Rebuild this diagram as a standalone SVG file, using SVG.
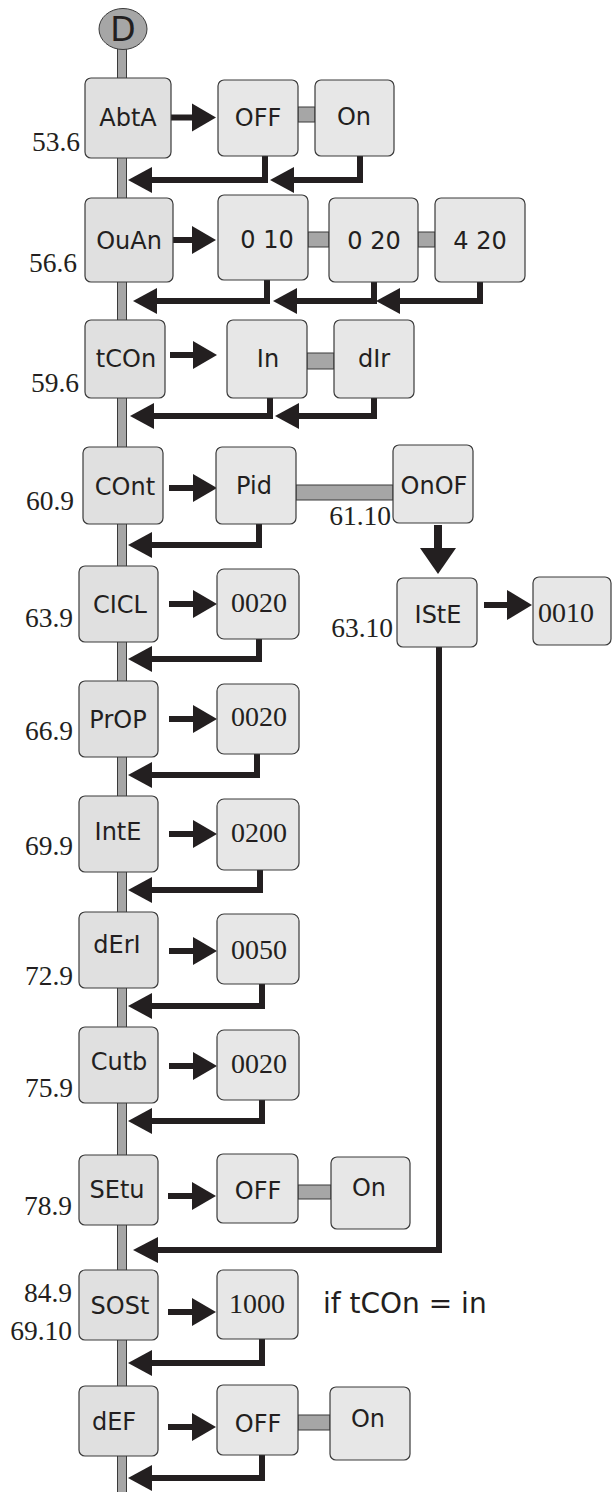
<svg xmlns="http://www.w3.org/2000/svg" width="613" height="1492" viewBox="0 0 613 1492">
<style>
.bx{fill:#e0e0e0;stroke:#3a3a3a;stroke-width:1.2}
.vb{fill:#e7e7e7;stroke:#3a3a3a;stroke-width:1.2}
.bar{fill:#a6a6a6;stroke:#3a3a3a;stroke-width:1}
.t{font-family:"DejaVu Sans","Liberation Sans",sans-serif;font-size:24px;fill:#231f20;text-anchor:middle}
.n{font-family:"Liberation Serif",serif;font-size:28px;fill:#231f20;text-anchor:middle}
.lb{font-family:"Liberation Serif",serif;font-size:27.5px;fill:#231f20;text-anchor:end}
.ln{fill:none;stroke:#231f20;stroke-width:6;stroke-linejoin:miter}
.ah{fill:#231f20}
</style>
<g id="spine">
<rect class="bar" x="117.5" y="45" width="9" height="1450"/>
</g>
<g id="node-D">
<ellipse cx="123" cy="29" rx="24" ry="20.5" class="bar"/>
<text x="123" y="41" class="t" style="font-size:33px">D</text>
</g>
<g id="links">
<rect class="bar" x="298" y="107" width="17" height="15"/>
<rect class="bar" x="308" y="232" width="21" height="15"/>
<rect class="bar" x="418" y="232" width="17" height="15"/>
<rect class="bar" x="307" y="353" width="27" height="16"/>
<rect class="bar" x="296" y="485" width="97" height="15"/>
<rect class="bar" x="298" y="1185" width="33" height="14"/>
<rect class="bar" x="298" y="1415" width="32" height="15"/>
</g>
<g id="connectors">
<line class="ln" x1="168" y1="117.5" x2="194" y2="117.5"/><polygon class="ah" points="192,103.5 216,117.5 192,131.5"/>
<line class="ln" x1="169" y1="240" x2="194" y2="240"/><polygon class="ah" points="192,226 216,240 192,254"/>
<line class="ln" x1="170" y1="355" x2="195" y2="355"/><polygon class="ah" points="193,341 217,355 193,369"/>
<line class="ln" x1="169" y1="488" x2="195" y2="488"/><polygon class="ah" points="193,474 217,488 193,502"/>
<line class="ln" x1="169" y1="604" x2="195" y2="604"/><polygon class="ah" points="193,590 217,604 193,618"/>
<line class="ln" x1="169" y1="719" x2="195" y2="719"/><polygon class="ah" points="193,705 217,719 193,733"/>
<line class="ln" x1="169" y1="834" x2="195" y2="834"/><polygon class="ah" points="193,820 217,834 193,848"/>
<line class="ln" x1="169" y1="951" x2="195" y2="951"/><polygon class="ah" points="193,937 217,951 193,965"/>
<line class="ln" x1="169" y1="1066" x2="195" y2="1066"/><polygon class="ah" points="193,1052 217,1066 193,1080"/>
<line class="ln" x1="168" y1="1196" x2="194" y2="1196"/><polygon class="ah" points="192,1182 216,1196 192,1210"/>
<line class="ln" x1="168" y1="1312" x2="194" y2="1312"/><polygon class="ah" points="192,1298 216,1312 192,1326"/>
<line class="ln" x1="168" y1="1427" x2="194" y2="1427"/><polygon class="ah" points="192,1413 216,1427 192,1441"/>
<line class="ln" x1="484" y1="605" x2="509" y2="605"/><polygon class="ah" points="507,590 532,605 507,620"/>
<rect class="ah" x="434" y="525" width="8" height="25"/><polygon class="ah" points="420,548 456,548 438,574"/>
<polyline class="ln" points="265,156 265,180 150,180"/><polygon class="ah" points="152,167 128,180 152,193"/>
<polyline class="ln" points="360,156 360,180 292,180"/><polygon class="ah" points="294,167 270,180 294,193"/>
<polyline class="ln" points="267,280 267,301 155,301"/><polygon class="ah" points="157,288 133,301 157,314"/>
<polyline class="ln" points="374,282 374,301 295,301"/><polygon class="ah" points="297,288 273,301 297,314"/>
<polyline class="ln" points="480,282 480,301 398,301"/><polygon class="ah" points="400,288 376,301 400,314"/>
<polyline class="ln" points="270,398 270,416 152,416"/><polygon class="ah" points="154,403 130,416 154,429"/>
<polyline class="ln" points="374,398 374,416 297,416"/><polygon class="ah" points="299,403 275,416 299,429"/>
<polyline class="ln" points="259,524 259,545 150,545"/><polygon class="ah" points="152,532 128,545 152,558"/>
<polyline class="ln" points="259,639 259,659 150,659"/><polygon class="ah" points="152,646 128,659 152,672"/>
<polyline class="ln" points="257,754 257,775 150,775"/><polygon class="ah" points="152,762 128,775 152,788"/>
<polyline class="ln" points="260,870 260,890 150,890"/><polygon class="ah" points="152,877 128,890 152,903"/>
<polyline class="ln" points="262,984 262,1006 150,1006"/><polygon class="ah" points="152,993 128,1006 152,1019"/>
<polyline class="ln" points="262,1100 262,1121 150,1121"/><polygon class="ah" points="152,1108 128,1121 152,1134"/>
<polyline class="ln" points="439,647 439,1250 155,1250"/><polygon class="ah" points="158,1237 133,1250 158,1263"/>
<polyline class="ln" points="262,1339 262,1363 150,1363"/><polygon class="ah" points="152,1350 128,1363 152,1376"/>
<polyline class="ln" points="262,1455 262,1478 150,1478"/><polygon class="ah" points="152,1465 128,1478 152,1491"/>
</g>
<g id="node-AbtA"><rect class="bx" x="85" y="78" width="86" height="80" rx="6"/><text class="t" x="128" y="126">AbtA</text><text class="lb" x="80" y="151">53.6</text></g>
<g id="node-AbtA-OFF"><rect class="vb" x="218" y="80" width="80" height="76" rx="6"/><text class="t" x="258" y="126">OFF</text></g>
<g id="node-AbtA-On"><rect class="vb" x="315" y="80" width="79" height="76" rx="6"/><text class="t" x="354" y="125">On</text></g>
<g id="node-OuAn"><rect class="bx" x="85" y="198" width="88" height="84" rx="6"/><text class="t" x="129" y="249">OuAn</text><text class="lb" x="77" y="272">56.6</text></g>
<g id="node-010"><rect class="vb" x="218" y="195" width="90" height="85" rx="6"/><text class="t" x="267" y="248">0 10</text></g>
<g id="node-020"><rect class="vb" x="329" y="198" width="89" height="84" rx="6"/><text class="t" x="374" y="249">0 20</text></g>
<g id="node-420"><rect class="vb" x="435" y="198" width="90" height="84" rx="6"/><text class="t" x="480" y="249">4 20</text></g>
<g id="node-tCOn"><rect class="bx" x="85" y="320" width="80" height="78" rx="6"/><text class="t" x="126" y="367">tCOn</text><text class="lb" x="79" y="392">59.6</text></g>
<g id="node-In"><rect class="vb" x="227" y="320" width="80" height="78" rx="6"/><text class="t" x="268" y="367">In</text></g>
<g id="node-dIr"><rect class="vb" x="334" y="320" width="80" height="78" rx="6"/><text class="t" x="374" y="367">dIr</text></g>
<g id="node-COnt"><rect class="bx" x="83" y="447" width="80" height="77" rx="6"/><text class="t" x="125" y="495">COnt</text><text class="lb" x="74" y="510">60.9</text></g>
<g id="node-Pid"><rect class="vb" x="216" y="447" width="80" height="77" rx="6"/><text class="t" x="254" y="494">Pid</text></g>
<g id="node-OnOF"><rect class="vb" x="393" y="445" width="80" height="78" rx="6"/><text class="t" x="434" y="494">OnOF</text><text class="lb" x="391" y="525">61.10</text></g>
<g id="node-CICL"><rect class="bx" x="79" y="566" width="79" height="76" rx="6"/><text class="t" x="120" y="613">CICL</text><text class="lb" x="73" y="627">63.9</text></g>
<g id="node-CICL-val"><rect class="vb" x="217" y="569" width="82" height="70" rx="7"/><text class="n" x="259" y="612">0020</text></g>
<g id="node-IStE"><rect class="vb" x="397" y="578" width="80" height="69" rx="6"/><text class="t" x="438" y="623">IStE</text><text class="lb" x="393" y="637">63.10</text></g>
<g id="node-IStE-val"><rect class="vb" x="533" y="577" width="78" height="68" rx="6"/><text class="n" x="566" y="622">0010</text></g>
<g id="node-PrOP"><rect class="bx" x="79" y="681" width="79" height="76" rx="6"/><text class="t" x="118" y="728">PrOP</text><text class="lb" x="73" y="740">66.9</text></g>
<g id="node-PrOP-val"><rect class="vb" x="217" y="684" width="82" height="70" rx="7"/><text class="n" x="259" y="726">0020</text></g>
<g id="node-IntE"><rect class="bx" x="79" y="796" width="79" height="76" rx="6"/><text class="t" x="118" y="840">IntE</text><text class="lb" x="73" y="855">69.9</text></g>
<g id="node-IntE-val"><rect class="vb" x="217" y="799" width="82" height="71" rx="7"/><text class="n" x="259" y="842">0200</text></g>
<g id="node-dErI"><rect class="bx" x="79" y="912" width="79" height="76" rx="6"/><text class="t" x="117" y="953">dErI</text><text class="lb" x="73" y="985">72.9</text></g>
<g id="node-dErI-val"><rect class="vb" x="217" y="914" width="82" height="70" rx="7"/><text class="n" x="259" y="959">0050</text></g>
<g id="node-Cutb"><rect class="bx" x="79" y="1027" width="79" height="76" rx="6"/><text class="t" x="119" y="1070">Cutb</text><text class="lb" x="73" y="1097">75.9</text></g>
<g id="node-Cutb-val"><rect class="vb" x="217" y="1030" width="82" height="70" rx="7"/><text class="n" x="259" y="1073">0020</text></g>
<g id="node-SEtu"><rect class="bx" x="79" y="1155" width="79" height="70" rx="6"/><text class="t" x="117" y="1198">SEtu</text><text class="lb" x="72" y="1215">78.9</text></g>
<g id="node-SEtu-OFF"><rect class="vb" x="217" y="1154" width="81" height="69" rx="6"/><text class="t" x="258" y="1199">OFF</text></g>
<g id="node-SEtu-On"><rect class="vb" x="331" y="1157" width="79" height="72" rx="6"/><text class="t" x="369" y="1196">On</text></g>
<g id="node-SOSt"><rect class="bx" x="79" y="1270" width="79" height="70" rx="6"/><text class="t" x="120" y="1314">SOSt</text><text class="lb" x="72" y="1302">84.9</text><text class="lb" x="72" y="1340">69.10</text></g>
<g id="node-SOSt-val"><rect class="vb" x="217" y="1270" width="81" height="69" rx="6"/><text class="n" x="257" y="1313">1000</text></g>
<g id="note"><text x="323" y="1313" style="font-family:'DejaVu Sans',sans-serif;font-size:28px;fill:#231f20">if tCOn = in</text></g>
<g id="node-dEF"><rect class="bx" x="79" y="1386" width="79" height="70" rx="6"/><text class="t" x="114" y="1430">dEF</text></g>
<g id="node-dEF-OFF"><rect class="vb" x="217" y="1385" width="81" height="70" rx="6"/><text class="t" x="258" y="1432">OFF</text></g>
<g id="node-dEF-On"><rect class="vb" x="330" y="1387" width="80" height="73" rx="6"/><text class="t" x="368" y="1427">On</text></g>
</svg>
